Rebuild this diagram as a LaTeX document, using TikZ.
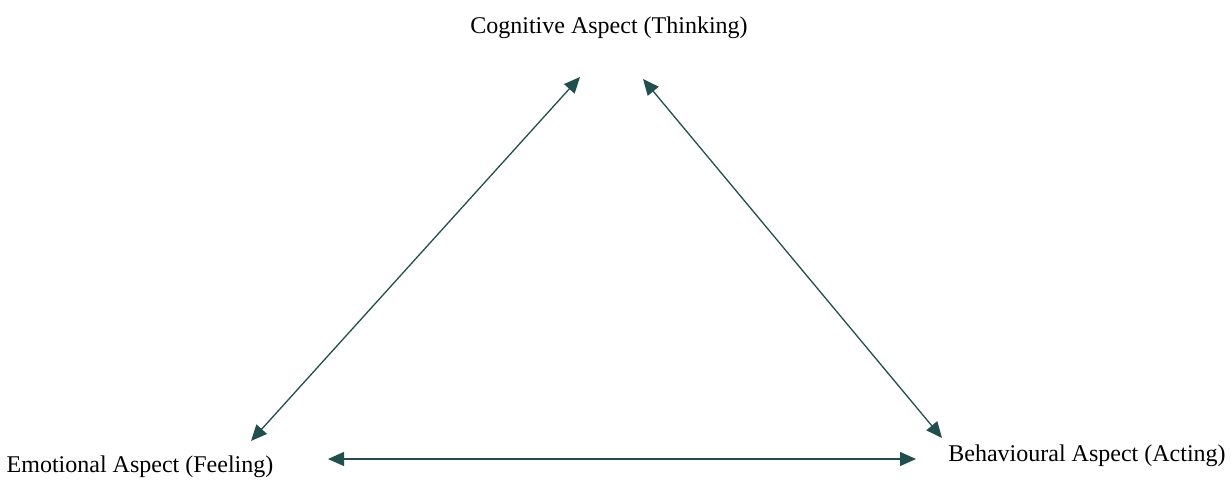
\documentclass[tikz,border=0pt]{standalone}
\usepackage{fontspec}
\setmainfont{Liberation Serif}
\usetikzlibrary{arrows.meta}
\definecolor{teal1}{RGB}{31,80,77}
\tikzset{
  lbl/.style={font=\fontsize{12}{14}\selectfont, inner sep=0pt, text=black},
  link/.style={draw=teal1, line width=0.65pt, {Triangle[length=8pt,width=7pt]}-{Triangle[length=8pt,width=7pt]}}
}
\begin{document}
\begin{tikzpicture}[x=0.5pt,y=-0.5pt]
\useasboundingbox (0,0) rectangle (1231,496);
\node[lbl] (cog) at (609,28) {Cognitive Aspect (Thinking)};
\node[lbl] (emo) at (140,467) {Emotional Aspect (Feeling)};
\node[lbl] (beh) at (1087,456) {Behavioural Aspect (Acting)};
\coordinate (ct1) at (580,77);
\coordinate (ct2) at (643,79);
\coordinate (el) at (251,441);
\coordinate (er) at (328,459);
\coordinate (bl) at (942,438);
\coordinate (br) at (916,459);
\draw[link] (el) -- (ct1);
\draw[link] (ct2) -- (bl);
\draw[link] (er) -- (br);
\end{tikzpicture}
\end{document}
